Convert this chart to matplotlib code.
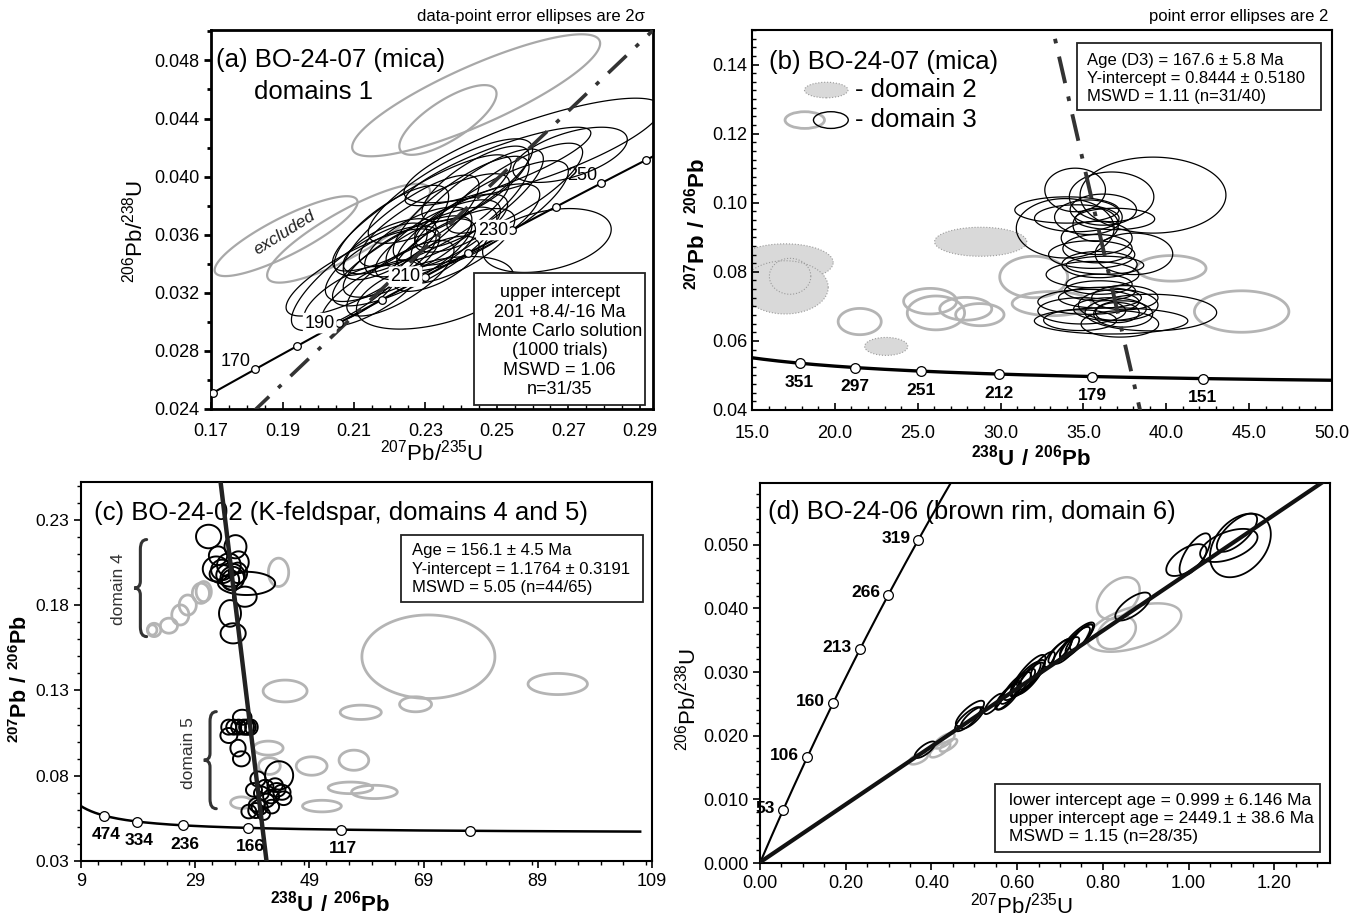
import numpy as np
import matplotlib
matplotlib.use("Agg")
import matplotlib.pyplot as plt
import matplotlib.font_manager as fm
from matplotlib.patches import Polygon, Rectangle, Ellipse, PathPatch
from matplotlib.path import Path
from matplotlib.ticker import MultipleLocator

names = {f.name for f in fm.fontManager.ttflist}
NARROW = "Liberation Sans Narrow" if "Liberation Sans Narrow" in names else "Liberation Sans"
plt.rcParams["font.family"] = [NARROW, "DejaVu Sans"]
plt.rcParams["mathtext.fontset"] = "custom"
plt.rcParams["mathtext.rm"] = NARROW
plt.rcParams["mathtext.bf"] = "Liberation Sans:bold"

# decay constants
L238 = 1.55125e-10
L235 = 9.8485e-10
U85 = 137.818

GRAY = "#b4b4b4"

# ---------------- panel a : Wetherill, BO-24-07 mica ----------------
a_ages = [160, 170, 180, 190, 200, 210, 220, 230, 240, 250, 260]
a_labels = [170, 190, 210, 230, 250]
a_disc = (0.1826, 0.024, 0.2347)  # x0, y0, slope

a_blk_x = [0.2503, 0.2705, 0.2600, 0.2640, 0.2327, 0.2120, 0.2115, 0.2205, 0.2290, 0.2325,
           0.2400, 0.2450, 0.2250, 0.2180, 0.2280, 0.2350, 0.2300, 0.2230, 0.2380, 0.2420,
           0.2150, 0.2260, 0.2480, 0.2550, 0.2330, 0.2200, 0.2440, 0.2370, 0.2090, 0.2400, 0.2270]
a_blk_sx = [0.026, 0.016, 0.036, 0.018, 0.022, 0.021, 0.019, 0.016, 0.025, 0.021,
            0.019, 0.018, 0.018, 0.016, 0.015, 0.016, 0.014, 0.015, 0.017, 0.020,
            0.014, 0.019, 0.022, 0.019, 0.012, 0.013, 0.015, 0.023, 0.013, 0.013, 0.023]
a_blk_y = [0.0407, 0.0415, 0.0418, 0.0356, 0.0320, 0.0334, 0.0331, 0.0363, 0.0375, 0.0370,
           0.0378, 0.0385, 0.0345, 0.0340, 0.0355, 0.0360, 0.0350, 0.0330, 0.0352, 0.0365,
           0.0320, 0.0365, 0.0375, 0.0392, 0.0340, 0.0352, 0.0395, 0.0390, 0.0318, 0.0368, 0.0345]
a_blk_sy = [0.0027, 0.0019, 0.0036, 0.0022, 0.0025, 0.0030, 0.0037, 0.0031, 0.0040, 0.0032,
            0.0036, 0.0034, 0.0028, 0.0026, 0.0024, 0.0024, 0.0021, 0.0026, 0.0026, 0.0030,
            0.0023, 0.0036, 0.0036, 0.0031, 0.0019, 0.0019, 0.0026, 0.0036, 0.0021, 0.0020, 0.0034]
a_blk_r = [0.85, 0.55, 0.80, 0.35, 0.45, 0.80, 0.80, 0.75, 0.85, 0.80,
           0.80, 0.80, 0.75, 0.70, 0.65, 0.70, 0.65, 0.75, 0.70, 0.75,
           0.75, 0.80, 0.80, 0.80, 0.65, 0.65, 0.75, 0.80, 0.70, 0.65, 0.80]

a_gry_x = [0.2442, 0.2363, 0.1910, 0.2085]
a_gry_sx = [0.0347, 0.0136, 0.0200, 0.0228]
a_gry_y = [0.0456, 0.0439, 0.0359, 0.0361]
a_gry_sy = [0.0042, 0.0024, 0.00275, 0.0034]
a_gry_r = [0.85, 0.75, 0.85, 0.85]

# ---------------- panel b : Tera-Wasserburg, BO-24-07 mica ----------------
b_ages = [351, 297, 251, 212, 179, 151]
b_age, b_yint = 167.6, 0.8444

b_d2_x = [17.0, 17.0, 28.8, 23.1]
b_d2_sx = [2.9, 2.6, 2.78, 1.3]
b_d2_y = [0.0827, 0.0755, 0.0887, 0.0584]
b_d2_sy = [0.0054, 0.0077, 0.0042, 0.0026]
b_d2o_x, b_d2o_sx, b_d2o_y, b_d2o_sy = [17.3], [1.25], [0.0787], [0.0052]

b_gry_x = [21.5, 25.75, 26.1, 27.9, 28.75, 32.0, 33.1, 40.3, 44.55]
b_gry_sx = [1.3, 1.6, 1.73, 1.57, 1.46, 2.05, 2.4, 2.1, 2.85]
b_gry_y = [0.0656, 0.0715, 0.0681, 0.0693, 0.0676, 0.0785, 0.0708, 0.0810, 0.0685]
b_gry_sy = [0.0038, 0.0037, 0.0049, 0.0033, 0.0032, 0.0060, 0.0035, 0.0037, 0.0060]

b_blk_x = [39.2, 34.5, 36.7, 34.0, 33.9, 34.6, 35.3, 35.74, 36.9, 35.8, 35.85, 38.05, 35.97,
           36.3, 35.55, 35.95, 36.0, 35.3, 34.9, 37.1, 39.07, 37.4, 36.67, 37.2, 36.6, 37.05,
           36.0, 37.5, 35.5, 36.2, 34.8]
b_blk_sx = [4.4, 1.83, 2.55, 3.14, 2.95, 2.55, 2.04, 1.37, 2.4, 2.14, 2.09, 2.34, 2.27,
            2.34, 2.8, 1.99, 2.14, 3.05, 2.65, 2.4, 3.97, 1.78, 4.63, 2.34, 2.19, 1.32,
            2.5, 2.0, 2.6, 2.0, 2.2]
b_blk_y = [0.1022, 0.1037, 0.1017, 0.0979, 0.0926, 0.0955, 0.0958, 0.0936, 0.0953, 0.0898,
           0.0867, 0.0852, 0.0821, 0.0819, 0.0792, 0.0764, 0.0745, 0.0713, 0.0687, 0.0704,
           0.0682, 0.0678, 0.0658, 0.0649, 0.0692, 0.0682, 0.0725, 0.0725, 0.0850, 0.0980, 0.0660]
b_blk_sy = [0.0110, 0.0063, 0.0072, 0.0038, 0.0086, 0.0039, 0.0050, 0.0048, 0.0031, 0.0048,
            0.0041, 0.0060, 0.0038, 0.0026, 0.0038, 0.0029, 0.0029, 0.0036, 0.0038, 0.0045,
            0.0053, 0.0038, 0.0038, 0.0038, 0.0033, 0.0029, 0.0030, 0.0035, 0.0040, 0.0045, 0.0030]

# ---------------- panel c : Tera-Wasserburg, BO-24-02 K-feldspar ----------------
c_ages = [474, 334, 236, 166, 117, 83]
c_labels = [474, 334, 236, 166, 117]
c_age, c_yint = 156.1, 1.1764

c_blk_x = [31.35, 36.06, 36.6, 32.7, 33.7, 35.2, 35.5, 38.0, 37.7, 35.1, 35.65, 33.6, 34.9, 35.2,
           33.0, 36.5,
           37.24, 34.87, 35.75, 36.6, 37.5, 38.3, 38.85, 34.9, 36.5, 37.1, 43.7,
           40.0, 39.3, 41.3, 43.3, 44.2, 42.3, 44.5, 39.8, 40.3, 38.4, 39.6, 41.0, 42.4, 40.6,
           38.0, 41.5, 43.0]
c_blk_sx = [2.2, 1.92, 1.78, 2.37, 1.9, 2.5, 2.07, 5.0, 2.07, 1.92, 2.2, 2.07, 2.07, 1.5,
            1.6, 1.6,
            1.63, 1.3, 1.3, 1.3, 1.3, 1.3, 1.1, 1.48, 1.33, 1.48, 2.46,
            1.33, 1.4, 1.4, 1.5, 1.5, 1.4, 1.35, 1.4, 1.4, 1.3, 1.3, 1.1, 1.3, 1.3,
            1.3, 1.35, 1.35]
c_blk_y = [0.2203, 0.2143, 0.2052, 0.2013, 0.2007, 0.1977, 0.1958, 0.1928, 0.1850, 0.1752,
           0.1635, 0.1983, 0.2036, 0.1948, 0.2090, 0.1990,
           0.1143, 0.1085, 0.1085, 0.1085, 0.1085, 0.1085, 0.1085, 0.1036, 0.0962, 0.0899, 0.0802,
           0.0781, 0.0717, 0.0736, 0.0717, 0.0703, 0.0678, 0.0668, 0.0629, 0.0615, 0.0590,
           0.0596, 0.0576, 0.0619, 0.0697, 0.1085, 0.0655, 0.0745]
c_blk_sy = [0.0069, 0.0068, 0.0064, 0.0073, 0.0060, 0.0068, 0.0068, 0.0068, 0.0059, 0.0078,
            0.0059, 0.0054, 0.0068, 0.0059, 0.0055, 0.0060,
            0.0044, 0.0044, 0.0044, 0.0044, 0.0044, 0.0044, 0.0044, 0.0044, 0.0049, 0.0044, 0.0083,
            0.0044, 0.0040, 0.0040, 0.0040, 0.0044, 0.0040, 0.0040, 0.0040, 0.0044, 0.0040,
            0.0044, 0.0035, 0.0040, 0.0040, 0.0044, 0.0040, 0.0040]

c_gry_x = [21.8, 21.5, 24.4, 26.4, 27.7, 30.0, 30.5, 43.6,
           69.85, 92.5, 44.75, 67.6, 58.0, 41.8, 49.4, 56.8, 42.0, 56.2, 60.4, 51.2, 37.1]
c_gry_sx = [1.18, 0.8, 1.5, 1.5, 1.5, 1.5, 1.33, 1.78,
            11.65, 5.2, 3.85, 2.8, 3.6, 2.6, 2.7, 2.6, 1.9, 3.9, 4.0, 3.4, 1.9]
c_gry_y = [0.1655, 0.1655, 0.1680, 0.1743, 0.1801, 0.1870, 0.1880, 0.1993,
           0.1498, 0.1338, 0.1297, 0.1219, 0.1172, 0.0962, 0.0857, 0.0891, 0.0857, 0.0729,
           0.0705, 0.0622, 0.0642]
c_gry_sy = [0.0039, 0.0030, 0.0044, 0.0059, 0.0059, 0.0059, 0.0059, 0.0083,
            0.0245, 0.0062, 0.0064, 0.0044, 0.0042, 0.0041, 0.0054, 0.0059, 0.0049, 0.0034,
            0.0039, 0.0034, 0.0034]

# ---------------- panel d : Wetherill, BO-24-06 brown rim ----------------
d_ages = [53, 106, 160, 213, 266, 319]
d_lower, d_upper = 0.999, 2449.1

d_blk_x = [1.121, 1.113, 1.094, 1.015, 0.995, 0.870,
           0.740, 0.745, 0.735, 0.750, 0.695, 0.700,
           0.625, 0.630, 0.620, 0.615, 0.635, 0.580, 0.585, 0.575,
           0.490, 0.495, 0.485, 0.385, 0.660, 0.545, 0.600, 0.715]
d_blk_sx = [0.071, 0.047, 0.067, 0.036, 0.047, 0.041,
            0.040, 0.032, 0.035, 0.027, 0.032, 0.027,
            0.041, 0.032, 0.035, 0.027, 0.030, 0.028, 0.024, 0.026,
            0.033, 0.027, 0.030, 0.024, 0.028, 0.022, 0.032, 0.030]
d_blk_y = [0.0499, 0.0519, 0.0499, 0.0485, 0.0476, 0.0403,
           0.0351, 0.0352, 0.0346, 0.0355, 0.0330, 0.0333,
           0.0294, 0.0290, 0.0289, 0.0284, 0.0296, 0.0262, 0.0268, 0.0261,
           0.0235, 0.0228, 0.0226, 0.0178, 0.0312, 0.0250, 0.0278, 0.0334]
d_blk_sy = [0.0050, 0.0030, 0.0026, 0.0033, 0.0025, 0.0022,
            0.0027, 0.0023, 0.0025, 0.0020, 0.0022, 0.0019,
            0.0033, 0.0025, 0.0027, 0.0021, 0.0023, 0.0021, 0.0018, 0.0020,
            0.0020, 0.0017, 0.0019, 0.0013, 0.0020, 0.0016, 0.0022, 0.0021]
d_blk_r = [0.35, 0.70, 0.50, 0.70, 0.60, 0.70,
           0.84, 0.84, 0.84, 0.80, 0.84, 0.80,
           0.84, 0.84, 0.84, 0.80, 0.80, 0.80, 0.80, 0.80,
           0.80, 0.80, 0.80, 0.76, 0.80, 0.80, 0.80, 0.80]

d_gry_x = [0.836, 0.873, 0.832, 0.430, 0.420, 0.370, 0.440]
d_gry_sx = [0.050, 0.110, 0.045, 0.024, 0.024, 0.022, 0.020]
d_gry_y = [0.0416, 0.0370, 0.0362, 0.0192, 0.0178, 0.0164, 0.0185]
d_gry_sy = [0.0033, 0.0038, 0.0026, 0.0012, 0.0012, 0.0009, 0.0010]
d_gry_r = [0.40, 0.50, 0.30, 0.70, 0.70, 0.60, 0.70]


def wetherill(t_ma):
    t = np.asarray(t_ma, dtype=float) * 1e6
    return np.exp(L235 * t) - 1, np.exp(L238 * t) - 1


def tera_wass(t_ma):
    x75, y68 = wetherill(t_ma)
    return 1 / y68, x75 / y68 / U85


def ellipses(ax, xs, sxs, ys, sys_, rhos=None, **kw):
    t = np.linspace(0, 2 * np.pi, 181)
    if rhos is None:
        rhos = [0.0] * len(xs)
    for x, sx, y, sy, r in zip(xs, sxs, ys, sys_, rhos):
        ex = x + sx * np.cos(t)
        ey = y + sy * (r * np.cos(t) + np.sqrt(1 - r * r) * np.sin(t))
        ax.add_patch(Polygon(np.column_stack([ex, ey]), closed=True, **kw))


def brace(ax, x, y0, y1, w):
    ym = (y0 + y1) / 2
    h = y1 - y0
    verts = [(x + w / 2, y1), (x, y1), (x, y1 - 0.1 * h), (x, ym + 0.07 * h),
             (x, ym), (x - w / 2, ym), (x, ym), (x, ym - 0.07 * h),
             (x, y0 + 0.1 * h), (x, y0), (x + w / 2, y0)]
    codes = [Path.MOVETO, Path.CURVE3, Path.CURVE3, Path.LINETO,
             Path.CURVE3, Path.CURVE3, Path.CURVE3, Path.CURVE3,
             Path.LINETO, Path.CURVE3, Path.CURVE3]
    ax.add_patch(PathPatch(Path(verts, codes), transform=ax.transAxes, fill=False,
                           lw=2.2, ec="#333333", capstyle="round"))


def box(ax, x0, y0, x1, y1, lines, tx, ty, dy, ha="left", fs=12.5):
    ax.add_patch(Rectangle((x0, y0), x1 - x0, y1 - y0, transform=ax.transAxes,
                           fc="white", ec="#222222", lw=1.3, zorder=6))
    for i, s in enumerate(lines):
        ax.text(tx, ty - i * dy, s, transform=ax.transAxes, ha=ha, va="center",
                fontsize=fs, zorder=7)


def style(ax, spine_lw=1.5):
    for s in ax.spines.values():
        s.set_linewidth(spine_lw)
    ax.tick_params(labelsize=13, width=1.2, length=5)
    ax.tick_params(which="minor", width=1.0, length=3)


fig = plt.figure(figsize=(13.52, 9.18), dpi=100)
ax_a = fig.add_axes([0.1561, 0.5545, 0.3269, 0.4129])
ax_b = fig.add_axes([0.5562, 0.5534, 0.4290, 0.4139])
ax_c = fig.add_axes([0.0599, 0.0621, 0.4223, 0.4129])
ax_d = fig.add_axes([0.5621, 0.0599, 0.4216, 0.4139])

TITLE_FS = 18.5

# ---- (a)
ax = ax_a
ax.set_xlim(0.17, 0.2937)
ax.set_ylim(0.024, 0.0501)
ax.xaxis.set_minor_locator(MultipleLocator(0.005))
ax.yaxis.set_major_locator(MultipleLocator(0.004))
ax.yaxis.set_minor_locator(MultipleLocator(0.002))
ax.set_xticks(np.arange(0.17, 0.2901, 0.02))
ax.set_xticklabels(["%.2f" % v for v in np.arange(0.17, 0.2901, 0.02)])
ax.set_yticks(np.arange(0.024, 0.0481, 0.004))
ax.set_yticklabels(["%.3f" % v for v in np.arange(0.024, 0.0481, 0.004)])
style(ax, 2.0)
ax.tick_params(axis="x", which="both", direction="in", pad=10)
ax.tick_params(axis="y", which="both", direction="out", width=2.0)
ellipses(ax, a_gry_x, a_gry_sx, a_gry_y, a_gry_sy, a_gry_r, fill=False, ec="#a8a8a8", lw=1.6)
ellipses(ax, a_blk_x, a_blk_sx, a_blk_y, a_blk_sy, a_blk_r, fill=False, ec="black", lw=0.9)
tt = np.linspace(140, 280, 200)
cx, cy = wetherill(tt)
ax.plot(cx, cy, color="black", lw=1.5, zorder=4)
mx, my = wetherill(a_ages)
ax.plot(mx, my, "o", ms=5.5, mfc="white", mec="black", mew=0.9, zorder=5)
lx, ly = wetherill(a_labels)
for age, x, y in zip(a_labels, lx, ly):
    dyo = 8 if age in (170, 250) else 0
    ax.annotate(str(age), (x, y), xytext=(-4, dyo), textcoords="offset pixels",
                ha="right", va="center", fontsize=13, zorder=5,
                bbox=dict(boxstyle="round,pad=0.1", fc="white", ec="none") if age in (190, 210, 230) else None)
xd = np.array([0.17, 0.2937])
ax.plot(xd, a_disc[1] + a_disc[2] * (xd - a_disc[0]), color="#333333", lw=2.6,
        ls=(0, (7, 3.5, 1.2, 3.5)), zorder=4)
ax.text(0.012, 0.921, "(a) BO-24-07 (mica)", transform=ax.transAxes, fontsize=TITLE_FS, va="center")
ax.text(0.097, 0.837, "domains 1", transform=ax.transAxes, fontsize=TITLE_FS, va="center")
ax.text(0.1905, 0.0361, "excluded", rotation=32, style="italic", fontsize=12.5,
        ha="center", va="center", color="#222222")
box(ax, 0.596, 0.011, 0.982, 0.359,
    ["upper intercept", "201 +8.4/-16 Ma", "Monte Carlo solution", "(1000 trials)",
     "MSWD = 1.06", "n=31/35"], 0.789, 0.306, 0.051, ha="center", fs=13)
ax.set_xlabel(r"$\mathrm{^{207}Pb/^{235}U}$", fontsize=16)
ax.set_ylabel(r"$\mathrm{^{206}Pb/^{238}U}$", fontsize=16)
ax.xaxis.set_label_coords(0.5, -0.082)
ax.yaxis.set_label_coords(-0.143, 0.47)

# ---- (b)
ax = ax_b
ax.set_xlim(15, 50)
ax.set_ylim(0.04, 0.15)
ax.xaxis.set_minor_locator(MultipleLocator(1))
ax.yaxis.set_minor_locator(MultipleLocator(0.0025))
ax.set_xticks(np.arange(15, 50.1, 5))
ax.set_xticklabels(["%.1f" % v for v in np.arange(15, 50.1, 5)])
ax.set_yticks(np.arange(0.04, 0.141, 0.02))
ax.set_yticklabels(["%.2f" % v for v in np.arange(0.04, 0.141, 0.02)])
style(ax)
ax.tick_params(which="both", direction="in")
ax.tick_params(axis="x", pad=11)
ellipses(ax, b_d2_x, b_d2_sx, b_d2_y, b_d2_sy, fc="#d9d9d9", ec="#9a9a9a", lw=0.8, ls=":")
ellipses(ax, b_d2o_x, b_d2o_sx, b_d2o_y, b_d2o_sy, fill=False, ec="#9a9a9a", lw=0.8, ls=":")
ellipses(ax, b_gry_x, b_gry_sx, b_gry_y, b_gry_sy, fill=False, ec=GRAY, lw=2.0)
ellipses(ax, b_blk_x, b_blk_sx, b_blk_y, b_blk_sy, fill=False, ec="black", lw=0.9)
tt = np.linspace(100, 420, 300)
cx, cy = tera_wass(tt)
ax.plot(cx, cy, color="black", lw=2.4, zorder=4)
mx, my = tera_wass(b_ages)
ax.plot(mx, my, "o", ms=7, mfc="white", mec="black", mew=0.9, zorder=5)
for age, x, y in zip(b_ages, mx, my):
    ax.annotate(str(age), (x, y), xytext=(0, -19), textcoords="offset pixels",
                ha="center", va="center", fontsize=12.5, fontweight="bold")
lx, ly = tera_wass([b_age])
xd = np.array([30.0, 40.0])
ax.plot(xd, b_yint + (ly[0] - b_yint) / lx[0] * xd, color="#333333", lw=2.8,
        ls=(0, (7, 3.5, 1.2, 3.5)), zorder=4)
ax.text(0.030, 0.917, "(b) BO-24-07 (mica)", transform=ax.transAxes, fontsize=TITLE_FS, va="center")
ax.add_patch(Ellipse((0.128, 0.842), 0.075, 0.041, transform=ax.transAxes,
                     fc="#d9d9d9", ec="#9a9a9a", lw=0.8, ls=":"))
ax.text(0.178, 0.842, "- domain 2", transform=ax.transAxes, fontsize=TITLE_FS, va="center")
ax.add_patch(Ellipse((0.091, 0.763), 0.068, 0.044, transform=ax.transAxes,
                     fill=False, ec=GRAY, lw=2.0))
ax.add_patch(Ellipse((0.136, 0.763), 0.060, 0.044, transform=ax.transAxes,
                     fill=False, ec="black", lw=1.0))
ax.text(0.178, 0.763, "- domain 3", transform=ax.transAxes, fontsize=TITLE_FS, va="center")
box(ax, 0.560, 0.789, 0.981, 0.965,
    ["Age (D3) = 167.6 \u00b1 5.8 Ma", "Y-intercept = 0.8444 \u00b1 0.5180",
     "MSWD = 1.11 (n=31/40)"], 0.578, 0.920, 0.048, fs=12)
ax.set_xlabel(r"$\mathbf{^{238}U\ /\ ^{206}Pb}$", fontsize=16)
ax.set_ylabel(r"$\mathbf{^{207}Pb\ /\ ^{206}Pb}$", fontsize=16)
ax.xaxis.set_label_coords(0.48, -0.092)
ax.yaxis.set_label_coords(-0.074, 0.49)

# ---- (c)
ax = ax_c
ax.set_xlim(9, 109)
ax.set_ylim(0.03, 0.2523)
ax.xaxis.set_minor_locator(MultipleLocator(4))
ax.set_xticks(np.arange(9, 110, 20))
ax.set_yticks(np.arange(0.03, 0.231, 0.05))
ax.set_yticklabels(["%.2f" % v for v in np.arange(0.03, 0.231, 0.05)])
ax.yaxis.set_minor_locator(MultipleLocator(0.01))
style(ax)
ax.tick_params(which="both", direction="out")
ax.tick_params(axis="y", labelsize=12.5)
ellipses(ax, c_gry_x, c_gry_sx, c_gry_y, c_gry_sy, fill=False, ec=GRAY, lw=2.0)
ellipses(ax, c_blk_x, c_blk_sx, c_blk_y, c_blk_sy, fill=False, ec="black", lw=1.4)
tt = np.linspace(60, 700, 400)
cx, cy = tera_wass(tt)
ax.plot(cx, cy, color="black", lw=1.8, zorder=4)
mx, my = tera_wass(c_ages)
ax.plot(mx, my, "o", ms=7, mfc="white", mec="black", mew=0.9, zorder=5)
lx, ly = tera_wass(c_labels)
for age, x, y in zip(c_labels, lx, ly):
    ax.annotate(str(age), (x, y), xytext=(2, -19), textcoords="offset pixels",
                ha="center", va="center", fontsize=12.5, fontweight="bold", zorder=5)
ix, iy = tera_wass([c_age])
xd = np.array([30.0, 45.0])
ax.plot(xd, c_yint + (iy[0] - c_yint) / ix[0] * xd, color="#222222", lw=3.2, zorder=4)
ax.text(0.023, 0.918, "(c) BO-24-02 (K-feldspar, domains 4 and 5)", transform=ax.transAxes,
        fontsize=TITLE_FS, va="center")
brace(ax, 0.104, 0.592, 0.848, 0.022)
brace(ax, 0.226, 0.138, 0.394, 0.022)
ax.text(0.066, 0.718, "domain 4", transform=ax.transAxes, rotation=90, fontsize=12.5,
        ha="center", va="center", color="#333333")
ax.text(0.188, 0.284, "domain 5", transform=ax.transAxes, rotation=90, fontsize=12.5,
        ha="center", va="center", color="#333333")
box(ax, 0.560, 0.682, 0.985, 0.861,
    ["Age = 156.1 \u00b1 4.5 Ma", "Y-intercept = 1.1764 \u00b1 0.3191",
     "MSWD = 5.05 (n=44/65)"], 0.580, 0.818, 0.048, fs=12)
ax.set_xlabel(r"$\mathbf{^{238}U\ /\ ^{206}Pb}$", fontsize=16)
ax.set_ylabel(r"$\mathbf{^{207}Pb\ /\ ^{206}Pb}$", fontsize=15.5)
ax.xaxis.set_label_coords(0.436, -0.077)
ax.yaxis.set_label_coords(-0.086, 0.48)

# ---- (d)
ax = ax_d
ax.set_xlim(0, 1.33)
ax.set_ylim(0, 0.0597)
ax.set_xticks(np.arange(0, 1.21, 0.2))
ax.set_xticklabels(["%.2f" % v for v in np.arange(0, 1.21, 0.2)])
ax.xaxis.set_minor_locator(MultipleLocator(0.05))
ax.set_yticks(np.arange(0, 0.0501, 0.01))
ax.set_yticklabels(["%.3f" % v for v in np.arange(0, 0.0501, 0.01)])
ax.yaxis.set_minor_locator(MultipleLocator(0.002))
style(ax)
ax.tick_params(which="both", direction="out")
ellipses(ax, d_gry_x, d_gry_sx, d_gry_y, d_gry_sy, d_gry_r, fill=False, ec=GRAY, lw=1.8)
ellipses(ax, d_blk_x, d_blk_sx, d_blk_y, d_blk_sy, d_blk_r, fill=False, ec="black", lw=1.3)
tt = np.linspace(0, 420, 300)
cx, cy = wetherill(tt)
ax.plot(cx, cy, color="black", lw=1.5, zorder=4)
mx, my = wetherill(d_ages)
ax.plot(mx, my, "o", ms=7, mfc="white", mec="black", mew=0.9, zorder=5, clip_on=False)
for age, x, y in zip(d_ages, mx, my):
    ax.annotate(str(age), (x, y), xytext=(-8, 2), textcoords="offset pixels",
                ha="right", va="center", fontsize=12.5, fontweight="bold", zorder=5)
lo = wetherill([d_lower])
up = wetherill([d_upper])
xd = np.array([0.0, 1.4])
slope = (up[1][0] - lo[1][0]) / (up[0][0] - lo[0][0])
ax.plot(xd, lo[1][0] + slope * (xd - lo[0][0]), color="#111111", lw=3.0, zorder=4)
ax.text(0.014, 0.925, "(d) BO-24-06 (brown rim, domain 6)", transform=ax.transAxes,
        fontsize=TITLE_FS, va="center")
box(ax, 0.412, 0.030, 0.982, 0.208,
    ["lower intercept age = 0.999 \u00b1 6.146 Ma", "upper intercept age = 2449.1 \u00b1 38.6 Ma",
     "MSWD = 1.15 (n=28/35)"], 0.437, 0.165, 0.048)
ax.set_xlabel(r"$\mathrm{^{207}Pb/^{235}U}$", fontsize=16)
ax.set_ylabel(r"$\mathrm{^{206}Pb/^{238}U}$", fontsize=16)
ax.xaxis.set_label_coords(0.46, -0.079)
ax.yaxis.set_label_coords(-0.105, 0.43)

fig.text(645 / 1352, 1 - 17 / 918, "data-point error ellipses are 2\u03c3", ha="right",
         va="center", fontsize=12)
fig.text(1328 / 1352, 1 - 17 / 918, "point error ellipses are 2", ha="right",
         va="center", fontsize=12)

fig.savefig("out.png", dpi=100)
